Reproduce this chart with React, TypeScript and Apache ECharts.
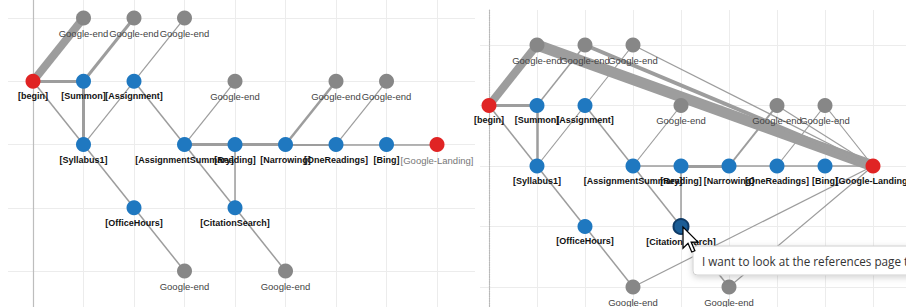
import { useEffect, useRef } from "react";
import * as echarts from "echarts";

// ---- data ----
const nodeLabels = [
  "[begin]", "[Summon]", "[Assignment]", "[Syllabus1]", "[AssignmentSummary]",
  "[Reading]", "[Narrowing]", "[OneReadings]", "[Bing]", "[Google-Landing]",
  "[OfficeHours]", "[CitationSearch]", "Google-end", "Google-end", "Google-end",
  "Google-end", "Google-end", "Google-end", "Google-end", "Google-end",
];
const nodeCols = [0, 1, 2, 1, 3, 4, 5, 6, 7, 8, 2, 4, 1, 2, 3, 4, 6, 7, 3, 5];
const nodeRows = [1, 1, 1, 2, 2, 2, 2, 2, 2, 2, 3, 3, 0, 0, 0, 1, 1, 1, 4, 4];
const nodeKinds = [
  "start", "step", "step", "step", "step", "step", "step", "step", "step", "landing",
  "step", "step", "end", "end", "end", "end", "end", "end", "end", "end",
];
// [source, target, left weight, right weight]
const sharedLinks = [
  [0, 12, 8, 8], [0, 1, 3, 3], [0, 3, 1.5, 1.5], [1, 13, 3, 1.5], [1, 3, 3, 2.5],
  [3, 2, 1.2, 1.2], [2, 14, 1.2, 1.2], [2, 4, 1.5, 1.5], [4, 15, 1.2, 1.2],
  [4, 5, 3, 1.5], [4, 11, 1.5, 1.5], [5, 6, 3, 3], [5, 11, 1.5, 1.5],
  [6, 16, 2.5, 2], [6, 7, 2, 1.5], [7, 17, 1.2, 1.2], [7, 8, 1.5, 1.5],
  [8, 9, 1.5, 1.5], [3, 10, 1.5, 1.5], [10, 18, 1.5, 1.5], [11, 19, 1.5, 1.5],
];
// extra transitions into the landing page (right view only)
const landingLinks = [
  [12, 9, 11], [13, 9, 4], [14, 9, 1.2], [16, 9, 1.2], [17, 9, 1.2],
  [18, 9, 1.2], [19, 9, 1.2],
];
const colTicks = [0, 1, 2, 3, 4, 5, 6, 7, 8];
const rowTicks = [0, 1, 2, 3, 4];
const tooltipText = "I want to look at the references page to";
const hoveredNode = 11;

const kindColor: Record<string, string> = {
  start: "#e02424",
  landing: "#e02424",
  step: "#1f78c0",
  end: "#878787",
};

function makeNodes(right: boolean) {
  return nodeLabels.map((lab, i) => {
    const kind = nodeKinds[i];
    const isEnd = kind === "end";
    const landingLeft = kind === "landing" && !right;
    const hovered = right && i === hoveredNode;
    return {
      id: "n" + i,
      name: lab,
      value: [nodeCols[i], nodeRows[i]],
      itemStyle: hovered
        ? { color: "#1b5d96", borderColor: "#0e3a66", borderWidth: 2 }
        : { color: kindColor[kind] },
      label: {
        show: true,
        position: "bottom",
        distance: 3,
        formatter: lab,
        fontFamily: "Liberation Sans",
        fontSize: isEnd || landingLeft ? 9.5 : 9,
        fontWeight: isEnd || landingLeft ? "normal" : "bold",
        color: isEnd ? "#444" : landingLeft ? "#777" : "#111",
      },
    };
  });
}

function makeLinks(right: boolean) {
  const base = sharedLinks.map((l) => ({
    source: l[0],
    target: l[1],
    lineStyle: { width: right ? l[3] : l[2] },
  }));
  if (!right) return base;
  return base.concat(
    landingLinks.map((l) => ({ source: l[0], target: l[1], lineStyle: { width: l[2] } }))
  );
}

function axisPair(idx: number, xmin: number, xmax: number, ymin: number, ymax: number, dotted: boolean) {
  const x = {
    type: "value",
    gridIndex: idx,
    min: xmin,
    max: xmax,
    axisLine: { show: false },
    axisTick: { show: false, customValues: colTicks },
    axisLabel: { show: false },
    splitLine: { show: true, lineStyle: { color: "#ececec", width: 1 } },
  };
  const y = {
    type: "value",
    gridIndex: idx,
    inverse: true,
    min: ymin,
    max: ymax,
    axisLine: {
      show: true,
      onZero: true,
      lineStyle: { color: dotted ? "#b8b8b8" : "#bdbdbd", width: 1.2, type: dotted ? "dotted" : "solid" },
    },
    axisTick: { show: false, customValues: rowTicks },
    axisLabel: { show: false },
    splitLine: { show: true, lineStyle: { color: "#ececec", width: 1 } },
  };
  return [x, y];
}

export default function App() {
  const ref = useRef<HTMLDivElement>(null);
  useEffect(() => {
    if (!ref.current) return;
    echarts.graphic.registerShape(
      "cursor",
      echarts.graphic.extendPath("M0 0 L0 17 L4 13 L7 20 L9.5 19 L6.5 12 L12 12 Z", {})
    );
    const chart = echarts.init(ref.current, null, { renderer: "svg" });
    const [lx, ly] = axisPair(0, -0.495, 8.752, -0.285, 4.569, false);
    const [rx, ry] = axisPair(1, -0.1875, 8.6875, -0.5785, 4.3306, true);
    const series = [0, 1].map((g) => ({
      type: "graph",
      coordinateSystem: "cartesian2d",
      xAxisIndex: g,
      yAxisIndex: g,
      symbol: "circle",
      symbolSize: 15,
      edgeSymbol: ["none", "none"],
      lineStyle: { color: "#9d9d9d", opacity: 1, curveness: 0 },
      emphasis: { disabled: true },
      data: makeNodes(g === 1),
      links: makeLinks(g === 1),
      z: 2,
    }));
    chart.setOption({
      animation: false,
      backgroundColor: "#ffffff",
      tooltip: { show: false },
      grid: [
        { left: 8, top: 0, width: 467, height: 307 },
        { left: 480, top: 10, width: 426, height: 297 },
      ],
      xAxis: [lx, rx],
      yAxis: [ly, ry],
      series,
      graphic: [
        {
          type: "rect",
          z: 100,
          shape: { x: 693, y: 246, width: 240, height: 29, r: 4 },
          style: {
            fill: "#ffffff",
            stroke: "#d0d0d0",
            lineWidth: 1,
            shadowBlur: 6,
            shadowColor: "rgba(0,0,0,0.18)",
            shadowOffsetY: 2,
          },
        },
        {
          type: "text",
          z: 101,
          x: 702,
          y: 261,
          scaleX: 0.9,
          style: {
            text: tooltipText,
            fontFamily: "Open Sans",
            fontSize: 13,
            fill: "#333",
            verticalAlign: "middle",
          },
        },
        {
          type: "cursor",
          z: 102,
          x: 683,
          y: 227,
          scaleX: 1.25,
          scaleY: 1.25,
          style: { fill: "#ffffff", stroke: "#000000", lineWidth: 1 },
        },
      ],
    });
    return () => chart.dispose();
  }, []);
  return (
    <div
      ref={ref}
      style={{ position: "absolute", left: 0, top: 0, width: 906, height: 307 }}
    />
  );
}
